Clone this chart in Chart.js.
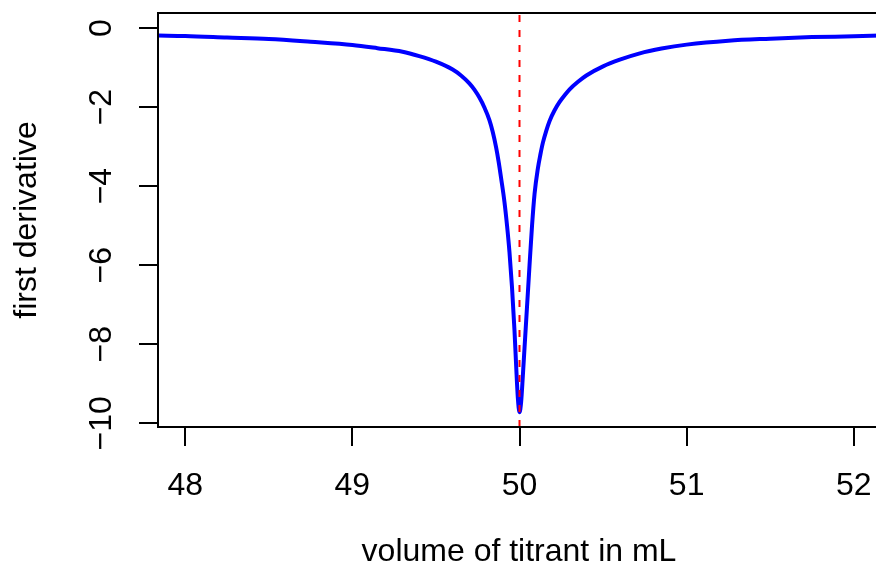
<!DOCTYPE html>
<html>
<head>
<meta charset="utf-8">
<script src="https://cdn.jsdelivr.net/npm/chart.js@4/dist/chart.umd.min.js"></script>
<style>
html,body{margin:0;padding:0;background:#fff;overflow:hidden;}
#wrap{width:880px;height:576px;}
</style>
</head>
<body>
<div id="wrap"><canvas id="c" width="880" height="576"></canvas></div>
<script>
// ---- data ----
const volume = [47.84, 48.0, 48.25, 48.5, 48.75, 49.0, 49.15, 49.3, 49.4, 49.5, 49.6, 49.65, 49.7, 49.73, 49.76, 49.79, 49.82, 49.84, 49.86, 49.875, 49.89, 49.91, 49.925, 49.94, 49.955, 49.97, 49.98, 49.99, 50.0, 50.01, 50.02, 50.03, 50.045, 50.06, 50.075, 50.09, 50.11, 50.125, 50.14, 50.16, 50.18, 50.21, 50.24, 50.27, 50.3, 50.35, 50.4, 50.5, 50.6, 50.72, 50.85, 51.0, 51.25, 51.5, 51.75, 52.0, 52.16];
const firstDerivative = [-0.19, -0.20, -0.24, -0.28, -0.35, -0.43, -0.51, -0.60, -0.71, -0.85, -1.05, -1.20, -1.40, -1.56, -1.76, -2.01, -2.33, -2.63, -3.02, -3.38, -3.80, -4.40, -4.98, -5.67, -6.55, -7.65, -8.55, -9.35, -9.72, -9.45, -8.8, -8.1, -7.05, -6.0, -5.0, -4.2, -3.55, -3.2, -2.9, -2.6, -2.35, -2.08, -1.87, -1.70, -1.55, -1.36, -1.2, -0.97, -0.80, -0.64, -0.52, -0.42, -0.32, -0.27, -0.23, -0.21, -0.19];
const equivalencePoint = 50;
const xTicks = [48, 49, 50, 51, 52];
const yTicks = [0, -2, -4, -6, -8, -10];
const xRange = [47.837, 52.157];
const yRange = [-10.094, 0.38];
const xTitle = 'volume of titrant in mL';
const yTitle = 'first derivative';

const FONT = "'Liberation Sans', Arial, Helvetica, sans-serif";
const fmt = v => String(v).replace('-', '\u2212');
const noPad = s => { s.paddingLeft = 0; s.paddingRight = 0; s.paddingTop = 0; s.paddingBottom = 0; };

const boxPlugin = {
  id: 'box',
  afterDatasetsDraw(chart) {
    const {ctx, chartArea: a} = chart;
    ctx.save();
    ctx.strokeStyle = '#000';
    ctx.lineWidth = 2;
    ctx.strokeRect(a.left, a.top, a.right - a.left, a.bottom - a.top);
    ctx.restore();
  }
};

new Chart(document.getElementById('c'), {
  type: 'line',
  data: {
    datasets: [
      {
        data: [{x: equivalencePoint, y: yRange[0]}, {x: equivalencePoint, y: yRange[1]}],
        borderColor: '#ff0000',
        borderWidth: 2,
        borderDash: [7, 8],
        pointRadius: 0,
        fill: false
      },
      {
        data: volume.map((v, i) => ({x: v, y: firstDerivative[i]})),
        borderColor: '#0000ff',
        borderWidth: 4,
        pointRadius: 0,
        fill: false,
        cubicInterpolationMode: 'monotone'
      }
    ]
  },
  options: {
    responsive: false,
    animation: false,
    devicePixelRatio: 1,
    layout: {padding: {top: 13, left: 0, right: 0, bottom: 0}},
    plugins: {legend: {display: false}, tooltip: {enabled: false}},
    scales: {
      x: {
        type: 'linear',
        min: xRange[0],
        max: xRange[1],
        afterBuildTicks: s => { s.ticks = xTicks.map(v => ({value: v})); },
        afterFit: s => { s.height = 149; noPad(s); },
        border: {display: false},
        grid: {drawOnChartArea: false, drawTicks: true, tickLength: 19, color: '#000', lineWidth: 2},
        ticks: {color: '#000', font: {family: FONT, size: 32}, padding: 21, callback: v => fmt(v), maxRotation: 0, minRotation: 0},
        title: {display: true, text: xTitle, color: '#000', font: {family: FONT, size: 32}, padding: {top: 0, bottom: 5}}
      },
      y: {
        type: 'linear',
        min: yRange[0],
        max: yRange[1],
        afterBuildTicks: s => { s.ticks = yTicks.map(v => ({value: v})); },
        afterFit: s => { s.width = 158; noPad(s); },
        border: {display: false},
        grid: {drawOnChartArea: false, drawTicks: true, tickLength: 19, color: '#000', lineWidth: 2},
        ticks: {color: '#000', font: {family: FONT, size: 32}, padding: 10, crossAlign: 'center', minRotation: 90, maxRotation: 90, callback: v => fmt(v)},
        title: {display: true, text: yTitle, color: '#000', font: {family: FONT, size: 32}, padding: {top: 8, bottom: 0}}
      }
    }
  },
  plugins: [boxPlugin]
});
</script>
</body>
</html>
